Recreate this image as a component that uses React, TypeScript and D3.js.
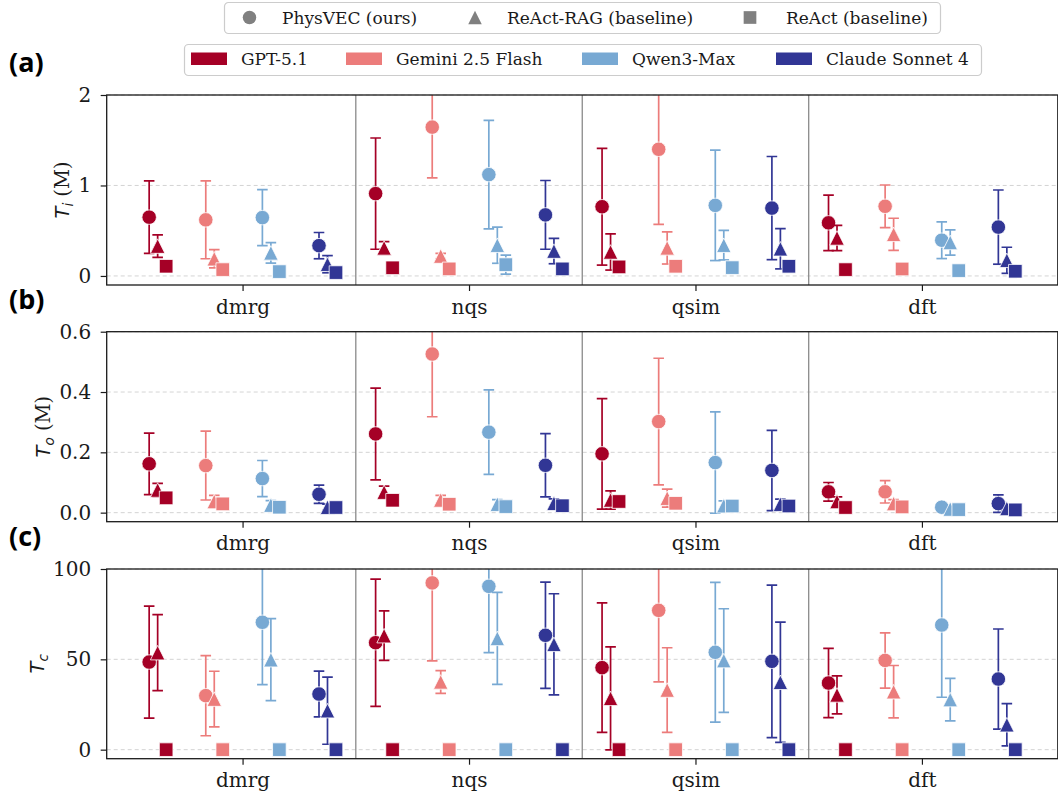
import { useEffect, useRef } from "react";
import * as d3 from "d3";

// categories / models / methods
const categories = ["dmrg", "nqs", "qsim", "dft"];
const models = ["GPT-5.1", "Gemini 2.5 Flash", "Qwen3-Max", "Claude Sonnet 4"];
const modelColors = ["#a50026", "#ec7c7b", "#78a9d3", "#313695"];
const methods = ["PhysVEC (ours)", "ReAct-RAG (baseline)", "ReAct (baseline)"];

// rows = categories, cols = models
// (a) T_i (M)
const tiPhysVEC = [[0.65, 0.62, 0.645, 0.335], [0.91, 1.645, 1.12, 0.675], [0.765, 1.4, 0.78, 0.75], [0.587, 0.77, 0.395, 0.54]];
const tiPhysVECSd = [[0.4, 0.43, 0.31, 0.145], [0.615, 0.56, 0.6, 0.38], [0.645, 0.83, 0.61, 0.57], [0.307, 0.235, 0.203, 0.41]];
const tiRag = [[0.33, 0.19, 0.255, 0.13], [0.31, 0.22, 0.34, 0.275], [0.265, 0.31, 0.34, 0.3], [0.42, 0.46, 0.37, 0.173]];
const tiRagSd = [[0.125, 0.1, 0.113, 0.095], [0.07, 0.03, 0.2, 0.14], [0.2, 0.178, 0.163, 0.222], [0.14, 0.178, 0.14, 0.144]];
const tiReact = [[0.107, 0.07, 0.048, 0.037], [0.09, 0.078, 0.125, 0.078], [0.1, 0.107, 0.092, 0.107], [0.07, 0.077, 0.059, 0.052]];
const tiReactSd = [[0, 0, 0, 0], [0, 0, 0.105, 0], [0, 0, 0, 0], [0, 0, 0, 0]];

// (b) T_o (M)
const toPhysVEC = [[0.162, 0.156, 0.113, 0.061], [0.261, 0.526, 0.267, 0.157], [0.195, 0.302, 0.166, 0.14], [0.069, 0.069, 0.018, 0.03]];
const toPhysVECSd = [[0.102, 0.114, 0.06, 0.03], [0.152, 0.208, 0.14, 0.105], [0.183, 0.21, 0.168, 0.133], [0.031, 0.037, 0.006, 0.029]];
const toRag = [[0.075, 0.037, 0.025, 0.018], [0.068, 0.042, 0.028, 0.031], [0.042, 0.048, 0.023, 0.028], [0.037, 0.03, 0.012, 0.014]];
const toRagSd = [[0.022, 0.02, 0.015, 0.01], [0.02, 0.015, 0.015, 0.015], [0.03, 0.03, 0.016, 0.017], [0.015, 0.013, 0.005, 0.008]];
const toReact = [[0.049, 0.029, 0.018, 0.017], [0.041, 0.028, 0.02, 0.023], [0.037, 0.031, 0.022, 0.022], [0.017, 0.019, 0.01, 0.009]];
const toReactSd = [[0, 0, 0, 0], [0, 0, 0, 0], [0, 0, 0, 0], [0, 0, 0, 0]];

// (c) T_c
const tcPhysVEC = [[48.5, 29.9, 70.5, 30.8], [59.2, 92.3, 90.4, 63.3], [45.4, 77.1, 53.9, 48.9], [36.9, 49.4, 69.0, 39.1]];
const tcPhysVECSd = [[31, 22.2, 34.5, 12.7], [35.2, 43.2, 36.7, 29.4], [35.8, 39.6, 38.7, 42.2], [19.2, 15.3, 40, 27.7]];
const tcRag = [[53.7, 28.0, 49.8, 21.6], [63.1, 37.5, 61.6, 58.3], [28.4, 33.0, 49.3, 37.3], [30.3, 32.1, 27.7, 13.8]];
const tcRagSd = [[21, 15.4, 22.7, 18.6], [13.7, 6.3, 25.5, 28], [28.5, 23.4, 28.7, 33.3], [10.5, 14.5, 11.8, 11.7]];
const tcReact = [[0, 0, 0, 0], [0, 0, 0, 0], [0, 0, 0, 0], [0, 0, 0, 0]];
const tcReactSd = [[0, 0, 0, 0], [0, 0, 0, 0], [0, 0, 0, 0], [0, 0, 0, 0]];

const yTicksA = [0, 1, 2];
const yTicksB = [0, 0.2, 0.4, 0.6];
const yTicksC = [0, 50, 100];

const W = 1058;
const H = 799;
const PLOT_LEFT = 106.7;
const PLOT_RIGHT = 1057.8;
const SERIF = "'DejaVu Serif', serif";
const TICK_FONT = 20;

type Panel = {
  label: string;
  top: number;
  bottom: number;
  domain: [number, number];
  ticks: number[];
  fmt: (d: number) => string;
  sym: string; // math symbol subscript
  unit: string;
  ylabelX: number;
  values: number[][][];
  sds: number[][][];
};

const panels: Panel[] = [
  { label: "(a)", top: 95, bottom: 285, domain: [-0.1, 2], ticks: yTicksA, fmt: (d) => String(d), sym: "i", unit: " (M)", ylabelX: 62, values: [tiPhysVEC, tiRag, tiReact], sds: [tiPhysVECSd, tiRagSd, tiReactSd] },
  { label: "(b)", top: 331.7, bottom: 521.7, domain: [-0.03, 0.6], ticks: yTicksB, fmt: d3.format(".1f"), sym: "o", unit: " (M)", ylabelX: 43, values: [toPhysVEC, toRag, toReact], sds: [toPhysVECSd, toRagSd, toReactSd] },
  { label: "(c)", top: 569, bottom: 758.7, domain: [-5, 100], ticks: yTicksC, fmt: (d) => String(d), sym: "c", unit: "", ylabelX: 37, values: [tcPhysVEC, tcRag, tcReact], sds: [tcPhysVECSd, tcRagSd, tcReactSd] },
];

// marker shapes, centred on the data point
function markerPath(kind: number, s: number) {
  const h = s / 2;
  if (kind === 0) return d3.symbol(d3.symbolCircle, Math.PI * h * h)()!;
  if (kind === 1) return `M0,${-h}L${h},${h}L${-h},${h}Z`;
  const q = s * 0.47;
  return `M${-q},${-q}H${q}V${q}H${-q}Z`;
}

export default function App() {
  const svgRef = useRef<SVGSVGElement | null>(null);

  useEffect(() => {
    const svgEl = svgRef.current;
    if (!svgEl) return;
    const svg = d3.select(svgEl);
    svg.selectAll("*").remove();

    const x = d3.scaleLinear().domain([-0.6, 3.6]).range([PLOT_LEFT, PLOT_RIGHT]);
    const modelOffset = (mi: number) => (mi - 1.5) * 0.25;
    const methodOffset = (ki: number) => (ki - 1) * 0.0375;

    panels.forEach((p, pi) => {
      const y = d3.scaleLinear().domain(p.domain).range([p.bottom, p.top]);
      const g = svg.append("g");

      const clipId = `clip-${pi}`;
      svg
        .append("clipPath")
        .attr("id", clipId)
        .append("rect")
        .attr("x", PLOT_LEFT)
        .attr("y", p.top)
        .attr("width", PLOT_RIGHT - PLOT_LEFT)
        .attr("height", p.bottom - p.top);

      // grid
      g.append("g")
        .selectAll("line")
        .data(p.ticks)
        .join("line")
        .attr("x1", PLOT_LEFT)
        .attr("x2", PLOT_RIGHT)
        .attr("y1", (d) => y(d))
        .attr("y2", (d) => y(d))
        .attr("stroke", "#cfcfcf")
        .attr("stroke-width", 0.9)
        .attr("stroke-dasharray", "4,3");

      // category separators
      g.append("g")
        .selectAll("line")
        .data([0.5, 1.5, 2.5])
        .join("line")
        .attr("x1", (d) => x(d))
        .attr("x2", (d) => x(d))
        .attr("y1", p.top)
        .attr("y2", p.bottom)
        .attr("stroke", "#8a8a8a")
        .attr("stroke-width", 1.3);

      const marks = g.append("g").attr("clip-path", `url(#${clipId})`);
      categories.forEach((_, ci) => {
        models.forEach((_, mi) => {
          methods.forEach((_, ki) => {
            const v = p.values[ki][ci][mi];
            const sd = p.sds[ki][ci][mi];
            const cx = x(ci + modelOffset(mi) + methodOffset(ki));
            const color = modelColors[mi];
            if (sd > 0) {
              const eg = marks.append("g").attr("stroke", color).attr("stroke-width", 1.7);
              eg.append("line").attr("x1", cx).attr("x2", cx).attr("y1", y(v - sd)).attr("y2", y(v + sd));
              [v - sd, v + sd].forEach((e) => {
                eg.append("line").attr("x1", cx - 5.3).attr("x2", cx + 5.3).attr("y1", y(e)).attr("y2", y(e));
              });
            }
            marks
              .append("path")
              .attr("d", markerPath(ki, 14.5))
              .attr("transform", `translate(${cx},${y(v)})`)
              .attr("fill", color)
              .attr("stroke", "#ffffff")
              .attr("stroke-width", 0.8);
          });
        });
      });

      // spines
      g.append("rect")
        .attr("x", PLOT_LEFT)
        .attr("y", p.top)
        .attr("width", PLOT_RIGHT - PLOT_LEFT)
        .attr("height", p.bottom - p.top)
        .attr("fill", "none")
        .attr("stroke", "#1a1a1a")
        .attr("stroke-width", 1.3);

      // y axis
      const yAxis = d3
        .axisLeft(y)
        .tickValues(p.ticks)
        .tickFormat((d) => p.fmt(d as number))
        .tickSize(6)
        .tickPadding(9.5);
      const ya = g.append("g").attr("transform", `translate(${PLOT_LEFT},0)`).call(yAxis);
      ya.select(".domain").remove();
      ya.selectAll("line").attr("stroke", "#1a1a1a").attr("stroke-width", 1.2);
      ya.selectAll("text").attr("font-family", SERIF).attr("font-size", TICK_FONT).attr("fill", "#1a1a1a");

      // x axis
      const xAxis = d3
        .axisBottom(x)
        .tickValues([0, 1, 2, 3])
        .tickFormat((d) => categories[d as number])
        .tickSize(6)
        .tickPadding(8.5);
      const xa = g.append("g").attr("transform", `translate(0,${p.bottom})`).call(xAxis);
      xa.select(".domain").remove();
      xa.selectAll("line").attr("stroke", "#1a1a1a").attr("stroke-width", 1.2);
      xa.selectAll("text").attr("font-family", SERIF).attr("font-size", TICK_FONT).attr("fill", "#1a1a1a");

      // y label
      const cy = (p.top + p.bottom) / 2;
      const yl = g
        .append("text")
        .attr("transform", `translate(${p.ylabelX},${cy}) rotate(-90)`)
        .attr("text-anchor", "middle")
        .attr("font-size", 19.5)
        .attr("fill", "#1a1a1a")
        .attr("dy", "0.35em");
      yl.append("tspan").attr("font-family", "'DejaVu Sans', sans-serif").attr("font-style", "italic").text("T");
      yl.append("tspan").attr("font-family", "'DejaVu Sans', sans-serif").attr("font-style", "italic").attr("font-size", 13.5).attr("dy", 4).text(p.sym);
      if (p.unit) yl.append("tspan").attr("font-family", SERIF).attr("dy", -4).text(p.unit);

      // panel label
      g.append("text")
        .attr("x", 9)
        .attr("y", p.top - 23)
        .attr("font-family", "'Open Sans', sans-serif")
        .attr("font-weight", 700)
        .attr("font-size", 27)
        .attr("fill", "#000")
        .text(p.label);
    });

    // legend 1: methods
    const l1 = svg.append("g");
    l1.append("rect").attr("x", 224.5).attr("y", 2.5).attr("width", 716).attr("height", 31).attr("rx", 4)
      .attr("fill", "#fff").attr("stroke", "#cccccc").attr("stroke-width", 1.2);
    const l1Handle = [249.5, 475, 750];
    const l1Text = [282, 507, 786];
    methods.forEach((m, ki) => {
      l1.append("path").attr("d", markerPath(ki, 13.5)).attr("transform", `translate(${l1Handle[ki]},17.5)`).attr("fill", "#808080");
      l1.append("text").attr("x", l1Text[ki]).attr("y", 23.5).attr("font-family", SERIF).attr("font-size", 17).attr("fill", "#1a1a1a").text(m);
    });

    // legend 2: models
    const l2 = svg.append("g");
    l2.append("rect").attr("x", 184.5).attr("y", 44.5).attr("width", 797).attr("height", 31).attr("rx", 4)
      .attr("fill", "#fff").attr("stroke", "#cccccc").attr("stroke-width", 1.2);
    const l2Patch = [191, 346, 582, 776];
    const l2Text = [241, 396, 632, 826];
    models.forEach((m, mi) => {
      l2.append("rect").attr("x", l2Patch[mi]).attr("y", 52.5).attr("width", 36).attr("height", 12.5).attr("fill", modelColors[mi]);
      l2.append("text").attr("x", l2Text[mi]).attr("y", 65).attr("font-family", SERIF).attr("font-size", 17).attr("fill", "#1a1a1a").text(m);
    });
  }, []);

  return (
    <svg
      ref={svgRef}
      width={W}
      height={H}
      viewBox={`0 0 ${W} ${H}`}
      style={{ position: "absolute", left: 0, top: 0, background: "#fff" }}
    />
  );
}
